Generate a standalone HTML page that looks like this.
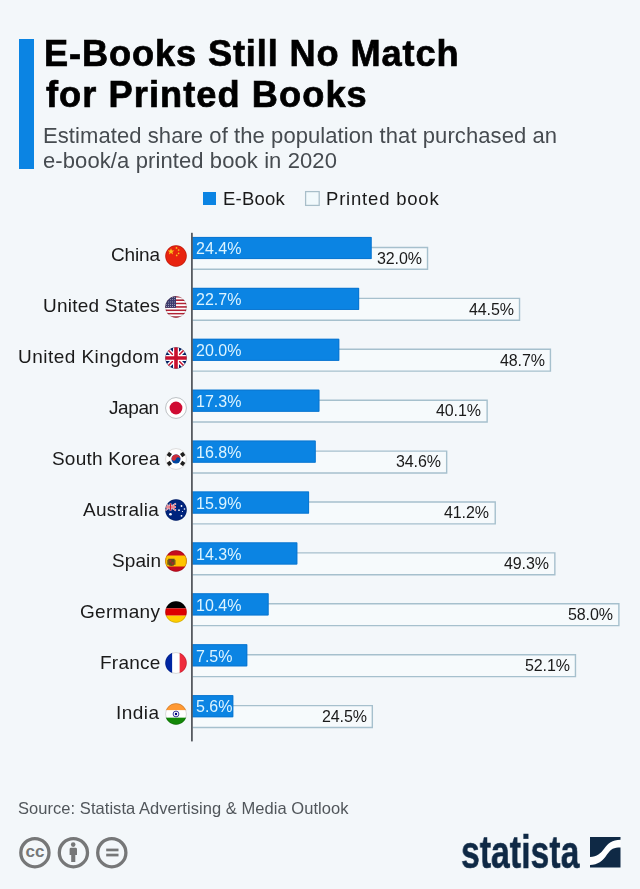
<!DOCTYPE html>
<html><head><meta charset="utf-8"><style>
html,body{margin:0;padding:0;}
body{width:640px;height:889px;background:#f3f7fa;position:relative;overflow:hidden;font-family:"Liberation Sans",sans-serif;}
.t{position:absolute;white-space:nowrap;line-height:1;will-change:transform;}
.fl{position:absolute;}
</style></head><body>
<svg style="position:absolute;left:0;top:0" width="640" height="889"><rect x="192.00" y="247.45" width="235.52" height="21.85" fill="#f6fafc"/><path d="M192.50,247.45 H427.52 V269.30 H192.50" fill="none" stroke="#a6c0cd" stroke-width="1.4"/><rect x="192.00" y="237.00" width="179.58" height="22.0" fill="#0b84e3"/><path d="M192.00,237.40 H371.18 V258.60 H192.00" fill="none" stroke="#0a72cc" stroke-width="0.8"/><rect x="192.00" y="298.36" width="327.52" height="21.85" fill="#f6fafc"/><path d="M192.50,298.36 H519.52 V320.21 H192.50" fill="none" stroke="#a6c0cd" stroke-width="1.4"/><rect x="192.00" y="287.91" width="167.07" height="22.0" fill="#0b84e3"/><path d="M192.00,288.31 H358.67 V309.51 H192.00" fill="none" stroke="#0a72cc" stroke-width="0.8"/><rect x="192.00" y="349.27" width="358.43" height="21.85" fill="#f6fafc"/><path d="M192.50,349.27 H550.43 V371.12 H192.50" fill="none" stroke="#a6c0cd" stroke-width="1.4"/><rect x="192.00" y="338.82" width="147.20" height="22.0" fill="#0b84e3"/><path d="M192.00,339.22 H338.80 V360.42 H192.00" fill="none" stroke="#0a72cc" stroke-width="0.8"/><rect x="192.00" y="400.18" width="295.14" height="21.85" fill="#f6fafc"/><path d="M192.50,400.18 H487.14 V422.03 H192.50" fill="none" stroke="#a6c0cd" stroke-width="1.4"/><rect x="192.00" y="389.73" width="127.33" height="22.0" fill="#0b84e3"/><path d="M192.00,390.13 H318.93 V411.33 H192.00" fill="none" stroke="#0a72cc" stroke-width="0.8"/><rect x="192.00" y="451.09" width="254.66" height="21.85" fill="#f6fafc"/><path d="M192.50,451.09 H446.66 V472.94 H192.50" fill="none" stroke="#a6c0cd" stroke-width="1.4"/><rect x="192.00" y="440.64" width="123.65" height="22.0" fill="#0b84e3"/><path d="M192.00,441.04 H315.25 V462.24 H192.00" fill="none" stroke="#0a72cc" stroke-width="0.8"/><rect x="192.00" y="502.00" width="303.23" height="21.85" fill="#f6fafc"/><path d="M192.50,502.00 H495.23 V523.85 H192.50" fill="none" stroke="#a6c0cd" stroke-width="1.4"/><rect x="192.00" y="491.55" width="117.02" height="22.0" fill="#0b84e3"/><path d="M192.00,491.95 H308.62 V513.15 H192.00" fill="none" stroke="#0a72cc" stroke-width="0.8"/><rect x="192.00" y="552.91" width="362.85" height="21.85" fill="#f6fafc"/><path d="M192.50,552.91 H554.85 V574.76 H192.50" fill="none" stroke="#a6c0cd" stroke-width="1.4"/><rect x="192.00" y="542.46" width="105.25" height="22.0" fill="#0b84e3"/><path d="M192.00,542.86 H296.85 V564.06 H192.00" fill="none" stroke="#0a72cc" stroke-width="0.8"/><rect x="192.00" y="603.82" width="426.88" height="21.85" fill="#f6fafc"/><path d="M192.50,603.82 H618.88 V625.67 H192.50" fill="none" stroke="#a6c0cd" stroke-width="1.4"/><rect x="192.00" y="593.37" width="76.54" height="22.0" fill="#0b84e3"/><path d="M192.00,593.77 H268.14 V614.97 H192.00" fill="none" stroke="#0a72cc" stroke-width="0.8"/><rect x="192.00" y="654.73" width="383.46" height="21.85" fill="#f6fafc"/><path d="M192.50,654.73 H575.46 V676.58 H192.50" fill="none" stroke="#a6c0cd" stroke-width="1.4"/><rect x="192.00" y="644.28" width="55.20" height="22.0" fill="#0b84e3"/><path d="M192.00,644.68 H246.80 V665.88 H192.00" fill="none" stroke="#0a72cc" stroke-width="0.8"/><rect x="192.00" y="705.64" width="180.32" height="21.85" fill="#f6fafc"/><path d="M192.50,705.64 H372.32 V727.49 H192.50" fill="none" stroke="#a6c0cd" stroke-width="1.4"/><rect x="192.00" y="695.19" width="41.22" height="22.0" fill="#0b84e3"/><path d="M192.00,695.59 H232.82 V716.79 H192.00" fill="none" stroke="#0a72cc" stroke-width="0.8"/><rect x="191" y="232.8" width="1.8" height="508.6" fill="#565a60"/></svg>
<div style="position:absolute;left:19px;top:39px;width:15px;height:130px;background:#0b84e3"></div>
<div class="t" style="left:44.00px;top:35.76px;font-size:36.2px;font-weight:bold;color:#000;letter-spacing:0.88px;-webkit-text-stroke:0.7px #000;">E-Books Still No Match</div>
<div class="t" style="left:46.00px;top:76.76px;font-size:36.2px;font-weight:bold;color:#000;letter-spacing:1.07px;-webkit-text-stroke:0.7px #000;">for Printed Books</div>
<div class="t" style="left:43.00px;top:125.38px;font-size:22px;font-weight:normal;color:#464b50;letter-spacing:0.08px;">Estimated share of the population that purchased an</div>
<div class="t" style="left:43.00px;top:150.28px;font-size:22px;font-weight:normal;color:#464b50;letter-spacing:0.1px;">e-book/a printed book in 2020</div>
<div style="position:absolute;left:203px;top:192px;width:13px;height:13px;background:#0b84e3"></div>
<div class="t" style="left:222.60px;top:189.94px;font-size:18.5px;font-weight:normal;color:#1a1a1a;letter-spacing:0.2px;">E-Book</div>
<svg style="position:absolute;left:304px;top:190px" width="17" height="17"><rect x="1.6" y="1.6" width="13.6" height="13.8" fill="#f1f9fc" stroke="#a8bec9" stroke-width="1.25"/></svg>
<div class="t" style="left:326.00px;top:189.94px;font-size:18.5px;font-weight:normal;color:#1a1a1a;letter-spacing:0.8px;">Printed book</div>
<div class="t" style="left:196.00px;top:241.26px;font-size:16px;font-weight:normal;color:#dcf4ff;">24.4%</div>
<div class="t" style="right:218.38px;text-align:right;top:250.76px;font-size:16px;font-weight:normal;color:#1a1a1a;letter-spacing:-0.1px;">32.0%</div>
<div class="t" style="right:480.60px;text-align:right;top:245.22px;font-size:19px;font-weight:normal;color:#1a1a1a;letter-spacing:-0.15px;">China</div>
<svg class="fl" style="left:164.75px;top:244.75px" width="22" height="22" viewBox="0 0 22 22"><defs><clipPath id="ccn"><circle cx="11" cy="11" r="10.75"/></clipPath></defs><g clip-path="url(#ccn)"><rect width="22" height="22" fill="#e8230f"/>
<polygon points="6,3.2 6.9,5.6 9.4,5.6 7.4,7.1 8.1,9.5 6,8.1 3.9,9.5 4.6,7.1 2.6,5.6 5.1,5.6" fill="#f9c51c"/>
<circle cx="11.5" cy="2.9" r="0.85" fill="#f9c51c"/><circle cx="13.6" cy="5" r="0.85" fill="#f9c51c"/>
<circle cx="13.6" cy="8.3" r="0.85" fill="#f9c51c"/><circle cx="11.7" cy="10.4" r="0.85" fill="#f9c51c"/></g><circle cx="11" cy="11" r="10.45" fill="none" stroke="rgba(0,0,0,0.25)" stroke-width="0.6"/></svg>
<div class="t" style="left:196.00px;top:292.17px;font-size:16px;font-weight:normal;color:#dcf4ff;">22.7%</div>
<div class="t" style="right:126.38px;text-align:right;top:301.67px;font-size:16px;font-weight:normal;color:#1a1a1a;letter-spacing:-0.1px;">44.5%</div>
<div class="t" style="right:479.60px;text-align:right;top:296.13px;font-size:19px;font-weight:normal;color:#1a1a1a;letter-spacing:0.234px;">United States</div>
<svg class="fl" style="left:164.75px;top:295.66px" width="22" height="22" viewBox="0 0 22 22"><defs><clipPath id="cus"><circle cx="11" cy="11" r="10.75"/></clipPath></defs><g clip-path="url(#cus)"><rect y="0.000" width="22" height="1.692" fill="#b22234"/><rect y="1.692" width="22" height="1.692" fill="#ffffff"/><rect y="3.385" width="22" height="1.692" fill="#b22234"/><rect y="5.077" width="22" height="1.692" fill="#ffffff"/><rect y="6.769" width="22" height="1.692" fill="#b22234"/><rect y="8.462" width="22" height="1.692" fill="#ffffff"/><rect y="10.154" width="22" height="1.692" fill="#b22234"/><rect y="11.846" width="22" height="1.692" fill="#ffffff"/><rect y="13.538" width="22" height="1.692" fill="#b22234"/><rect y="15.231" width="22" height="1.692" fill="#ffffff"/><rect y="16.923" width="22" height="1.692" fill="#b22234"/><rect y="18.615" width="22" height="1.692" fill="#ffffff"/><rect y="20.308" width="22" height="1.692" fill="#b22234"/><rect width="11" height="11.85" fill="#3c3b6e"/><circle cx="1.30" cy="1.30" r="0.45" fill="#fff"/><circle cx="3.40" cy="1.30" r="0.45" fill="#fff"/><circle cx="5.50" cy="1.30" r="0.45" fill="#fff"/><circle cx="7.60" cy="1.30" r="0.45" fill="#fff"/><circle cx="9.70" cy="1.30" r="0.45" fill="#fff"/><circle cx="1.30" cy="3.60" r="0.45" fill="#fff"/><circle cx="3.40" cy="3.60" r="0.45" fill="#fff"/><circle cx="5.50" cy="3.60" r="0.45" fill="#fff"/><circle cx="7.60" cy="3.60" r="0.45" fill="#fff"/><circle cx="9.70" cy="3.60" r="0.45" fill="#fff"/><circle cx="1.30" cy="5.90" r="0.45" fill="#fff"/><circle cx="3.40" cy="5.90" r="0.45" fill="#fff"/><circle cx="5.50" cy="5.90" r="0.45" fill="#fff"/><circle cx="7.60" cy="5.90" r="0.45" fill="#fff"/><circle cx="9.70" cy="5.90" r="0.45" fill="#fff"/><circle cx="1.30" cy="8.20" r="0.45" fill="#fff"/><circle cx="3.40" cy="8.20" r="0.45" fill="#fff"/><circle cx="5.50" cy="8.20" r="0.45" fill="#fff"/><circle cx="7.60" cy="8.20" r="0.45" fill="#fff"/><circle cx="9.70" cy="8.20" r="0.45" fill="#fff"/><circle cx="1.30" cy="10.50" r="0.45" fill="#fff"/><circle cx="3.40" cy="10.50" r="0.45" fill="#fff"/><circle cx="5.50" cy="10.50" r="0.45" fill="#fff"/><circle cx="7.60" cy="10.50" r="0.45" fill="#fff"/><circle cx="9.70" cy="10.50" r="0.45" fill="#fff"/></g><circle cx="11" cy="11" r="10.45" fill="none" stroke="rgba(0,0,0,0.25)" stroke-width="0.6"/></svg>
<div class="t" style="left:196.00px;top:343.08px;font-size:16px;font-weight:normal;color:#dcf4ff;">20.0%</div>
<div class="t" style="right:95.47px;text-align:right;top:352.58px;font-size:16px;font-weight:normal;color:#1a1a1a;letter-spacing:-0.1px;">48.7%</div>
<div class="t" style="right:480.00px;text-align:right;top:347.04px;font-size:19px;font-weight:normal;color:#1a1a1a;letter-spacing:0.461px;">United Kingdom</div>
<svg class="fl" style="left:164.75px;top:346.57px" width="22" height="22" viewBox="0 0 22 22"><defs><clipPath id="cuk"><circle cx="11" cy="11" r="10.75"/></clipPath></defs><g clip-path="url(#cuk)"><rect width="22" height="22" fill="#012169"/>
<path d="M0,0 L22,22 M22,0 L0,22" stroke="#fff" stroke-width="4.4"/>
<path d="M0,0 L22,22 M22,0 L0,22" stroke="#c8102e" stroke-width="1.5"/>
<path d="M11,0 V22 M0,11 H22" stroke="#fff" stroke-width="6"/>
<path d="M11,0 V22 M0,11 H22" stroke="#c8102e" stroke-width="3.6"/></g><circle cx="11" cy="11" r="10.45" fill="none" stroke="rgba(0,0,0,0.25)" stroke-width="0.6"/></svg>
<div class="t" style="left:196.00px;top:393.99px;font-size:16px;font-weight:normal;color:#dcf4ff;">17.3%</div>
<div class="t" style="right:158.76px;text-align:right;top:403.49px;font-size:16px;font-weight:normal;color:#1a1a1a;letter-spacing:-0.1px;">40.1%</div>
<div class="t" style="right:480.80px;text-align:right;top:397.95px;font-size:19px;font-weight:normal;color:#1a1a1a;letter-spacing:-0.4px;">Japan</div>
<svg class="fl" style="left:164.75px;top:397.48px" width="22" height="22" viewBox="0 0 22 22"><defs><clipPath id="cjp"><circle cx="11" cy="11" r="10.75"/></clipPath></defs><g clip-path="url(#cjp)"><rect width="22" height="22" fill="#fff"/><circle cx="11" cy="11" r="6.4" fill="#d00c33"/></g><circle cx="11" cy="11" r="10.45" fill="none" stroke="#8f979c" stroke-width="0.6"/></svg>
<div class="t" style="left:196.00px;top:444.90px;font-size:16px;font-weight:normal;color:#dcf4ff;">16.8%</div>
<div class="t" style="right:199.24px;text-align:right;top:454.40px;font-size:16px;font-weight:normal;color:#1a1a1a;letter-spacing:-0.1px;">34.6%</div>
<div class="t" style="right:480.20px;text-align:right;top:448.86px;font-size:19px;font-weight:normal;color:#1a1a1a;letter-spacing:0.2px;">South Korea</div>
<svg class="fl" style="left:164.75px;top:448.39px" width="22" height="22" viewBox="0 0 22 22"><defs><clipPath id="ckr"><circle cx="11" cy="11" r="10.75"/></clipPath></defs><g clip-path="url(#ckr)"><rect width="22" height="22" fill="#fff"/>
<circle cx="11" cy="11" r="4.5" fill="#0047a0"/>
<path d="M6.5,11 A4.5,4.5 0 0 1 15.5,11 A2.25,2.25 0 0 0 11,11 A2.25,2.25 0 0 1 6.5,11Z" fill="#cd2e3a" transform="rotate(12 11 11)"/>
<g fill="#1e1e1e"><rect x="2.3" y="4.6" width="4" height="3.8" transform="rotate(-56 4.3 6.5)"/>
<rect x="15.7" y="4.6" width="4" height="3.8" transform="rotate(56 17.7 6.5)"/>
<rect x="2.3" y="13.6" width="4" height="3.8" transform="rotate(56 4.3 15.5)"/>
<rect x="15.7" y="13.6" width="4" height="3.8" transform="rotate(-56 17.7 15.5)"/></g>
</g><circle cx="11" cy="11" r="10.45" fill="none" stroke="#c4c4c4" stroke-width="0.6"/></svg>
<div class="t" style="left:196.00px;top:495.81px;font-size:16px;font-weight:normal;color:#dcf4ff;">15.9%</div>
<div class="t" style="right:150.67px;text-align:right;top:505.31px;font-size:16px;font-weight:normal;color:#1a1a1a;letter-spacing:-0.1px;">41.2%</div>
<div class="t" style="right:480.80px;text-align:right;top:499.77px;font-size:19px;font-weight:normal;color:#1a1a1a;letter-spacing:0.227px;">Australia</div>
<svg class="fl" style="left:164.75px;top:499.30px" width="22" height="22" viewBox="0 0 22 22"><defs><clipPath id="cau"><circle cx="11" cy="11" r="10.75"/></clipPath></defs><g clip-path="url(#cau)"><rect width="22" height="22" fill="#00247d"/>
<g transform="translate(0,4.5) scale(0.5)">
<path d="M0,0 L22,14 M22,0 L0,14" stroke="#fff" stroke-width="3"/>
<path d="M0,0 L22,14 M22,0 L0,14" stroke="#cf142b" stroke-width="1.2"/>
<path d="M11,0 V14 M0,7 H22" stroke="#fff" stroke-width="4"/>
<path d="M11,0 V14 M0,7 H22" stroke="#cf142b" stroke-width="2.4"/></g>
<g fill="#fff"><circle cx="5.5" cy="15.3" r="1.3"/><circle cx="14" cy="11.2" r="0.9"/>
<circle cx="16.5" cy="7" r="0.9"/><circle cx="19.5" cy="10" r="0.8"/><circle cx="17.5" cy="12.5" r="0.6"/><circle cx="16.5" cy="16.8" r="0.9"/></g></g><circle cx="11" cy="11" r="10.45" fill="none" stroke="rgba(0,0,0,0.25)" stroke-width="0.6"/></svg>
<div class="t" style="left:196.00px;top:546.72px;font-size:16px;font-weight:normal;color:#dcf4ff;">14.3%</div>
<div class="t" style="right:91.05px;text-align:right;top:556.22px;font-size:16px;font-weight:normal;color:#1a1a1a;letter-spacing:-0.1px;">49.3%</div>
<div class="t" style="right:478.80px;text-align:right;top:550.68px;font-size:19px;font-weight:normal;color:#1a1a1a;letter-spacing:0.1px;">Spain</div>
<svg class="fl" style="left:164.75px;top:550.21px" width="22" height="22" viewBox="0 0 22 22"><defs><clipPath id="ces"><circle cx="11" cy="11" r="10.75"/></clipPath></defs><g clip-path="url(#ces)"><rect width="22" height="22" fill="#c60b1e"/><rect y="5.5" width="22" height="11" fill="#ffc400"/>
<g transform="translate(0,0.8)"><path d="M3.2,8 H9.6 V13 Q9.6,15.2 6.4,15.2 Q3.2,15.2 3.2,13 Z" fill="#4e4020" opacity="0.9"/><rect x="4.3" y="9" width="2" height="2.6" fill="#a8282a"/><rect x="6.6" y="11.3" width="2" height="2.4" fill="#a8282a"/><rect x="2.4" y="9" width="0.9" height="5" fill="#4e4020"/><rect x="9.5" y="9" width="0.9" height="5" fill="#4e4020"/></g></g><circle cx="11" cy="11" r="10.45" fill="none" stroke="rgba(0,0,0,0.25)" stroke-width="0.6"/></svg>
<div class="t" style="left:196.00px;top:597.63px;font-size:16px;font-weight:normal;color:#dcf4ff;">10.4%</div>
<div class="t" style="right:27.02px;text-align:right;top:607.13px;font-size:16px;font-weight:normal;color:#1a1a1a;letter-spacing:-0.1px;">58.0%</div>
<div class="t" style="right:479.80px;text-align:right;top:601.59px;font-size:19px;font-weight:normal;color:#1a1a1a;letter-spacing:0.299px;">Germany</div>
<svg class="fl" style="left:164.75px;top:601.12px" width="22" height="22" viewBox="0 0 22 22"><defs><clipPath id="cde"><circle cx="11" cy="11" r="10.75"/></clipPath></defs><g clip-path="url(#cde)"><rect width="22" height="7.33" fill="#000"/><rect y="7.33" width="22" height="7.34" fill="#dd0000"/><rect y="14.67" width="22" height="7.33" fill="#ffce00"/></g><circle cx="11" cy="11" r="10.45" fill="none" stroke="rgba(0,0,0,0.25)" stroke-width="0.6"/></svg>
<div class="t" style="left:196.00px;top:648.54px;font-size:16px;font-weight:normal;color:#dcf4ff;">7.5%</div>
<div class="t" style="right:70.44px;text-align:right;top:658.04px;font-size:16px;font-weight:normal;color:#1a1a1a;letter-spacing:-0.1px;">52.1%</div>
<div class="t" style="right:479.80px;text-align:right;top:652.50px;font-size:19px;font-weight:normal;color:#1a1a1a;letter-spacing:0.24px;">France</div>
<svg class="fl" style="left:164.75px;top:652.03px" width="22" height="22" viewBox="0 0 22 22"><defs><clipPath id="cfr"><circle cx="11" cy="11" r="10.75"/></clipPath></defs><g clip-path="url(#cfr)"><rect width="7.33" height="22" fill="#0026a3"/><rect x="7.33" width="7.34" height="22" fill="#fff"/><rect x="14.67" width="7.33" height="22" fill="#ef2b3c"/></g><circle cx="11" cy="11" r="10.45" fill="none" stroke="rgba(0,0,0,0.25)" stroke-width="0.6"/></svg>
<div class="t" style="left:196.00px;top:699.45px;font-size:16px;font-weight:normal;color:#dcf4ff;">5.6%</div>
<div class="t" style="right:273.58px;text-align:right;top:708.95px;font-size:16px;font-weight:normal;color:#1a1a1a;letter-spacing:-0.1px;">24.5%</div>
<div class="t" style="right:480.80px;text-align:right;top:703.41px;font-size:19px;font-weight:normal;color:#1a1a1a;letter-spacing:0.45px;">India</div>
<svg class="fl" style="left:164.75px;top:702.94px" width="22" height="22" viewBox="0 0 22 22"><defs><clipPath id="cin"><circle cx="11" cy="11" r="10.75"/></clipPath></defs><g clip-path="url(#cin)"><rect width="22" height="7.33" fill="#ff9933"/><rect y="7.33" width="22" height="7.34" fill="#fff"/><rect y="14.67" width="22" height="7.33" fill="#138808"/>
<circle cx="11" cy="11" r="2.9" fill="none" stroke="#3a3a9a" stroke-width="1"/><circle cx="11" cy="11" r="1.2" fill="#000080"/></g><circle cx="11" cy="11" r="10.45" fill="none" stroke="rgba(0,0,0,0.25)" stroke-width="0.6"/></svg>
<div class="t" style="left:18.00px;top:800.03px;font-size:16.5px;font-weight:normal;color:#51565b;letter-spacing:0.05px;">Source: Statista Advertising &amp; Media Outlook</div>
<svg style="position:absolute;left:0;top:820px" width="140" height="64" viewBox="0 820 140 64">
<g fill="none" stroke="#767778" stroke-width="3.3">
<circle cx="34.9" cy="852.7" r="14.1"/><circle cx="73.4" cy="852.7" r="14.1"/><circle cx="111.8" cy="852.7" r="14.1"/></g>
<text x="35.1" y="856.6" font-family="Liberation Sans" font-weight="bold" font-size="17" fill="#767778" text-anchor="middle" letter-spacing="0.2">cc</text>
<g fill="#767778"><circle cx="73.2" cy="844.6" r="2.3"/><path d="M69.6,849.2 Q69.6,847.8 71,847.8 H75.6 Q77,847.8 77,849.2 V855 H75.3 V862 H71.2 V855 H69.6 Z"/>
<rect x="106.2" y="848.6" width="12.3" height="2.7"/><rect x="106.2" y="853.7" width="12.3" height="2.7"/></g>
</svg><div class="t" style="left:460.80px;top:830.17px;font-size:45.4px;font-weight:bold;color:#0f2945;transform:scaleX(0.745);transform-origin:0 0;-webkit-text-stroke:0.5px #0f2945;">statista</div>
<svg style="position:absolute;left:589.6px;top:837.1px" width="31" height="31" viewBox="0 0 31 31">
<path d="M0,19.9 C7,19.9 10.6,16.5 14.3,11.5 C18,6.5 22,2.7 30.5,2.7 V10.4 C24,10.4 21,11.5 17,17.6 C12.5,24.5 8,27.9 0,27.9 Z" fill="#fff"/>
<path d="M0,0 H30.5 V2.7 C22,2.7 18,6.5 14.3,11.5 C10.6,16.5 7,19.9 0,19.9 Z" fill="#0f2945"/>
<path d="M0,27.9 C8,27.9 12.5,24.5 17,17.6 C21,11.5 24,10.4 30.5,10.4 V30.6 H0 Z" fill="#0f2945"/>
</svg>
</body></html>
